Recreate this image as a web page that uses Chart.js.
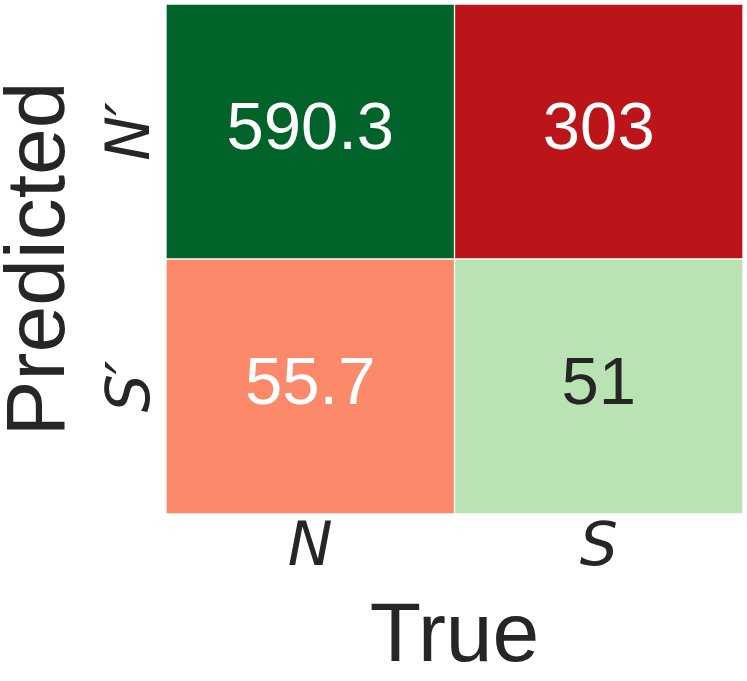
<!DOCTYPE html>
<html>
<head>
<meta charset="utf-8">
<script src="https://cdn.jsdelivr.net/npm/chart.js@4.4.1/dist/chart.umd.min.js"></script>
<style>
  body { margin: 0; background: #fff; }
  #wrap { width: 747px; height: 681px; }
</style>
</head>
<body>
<div id="wrap"><canvas id="cm" width="747" height="681"></canvas></div>
<script>
// Confusion matrix data
const trueLabels = ['N', 'S'];
const predLabels = ['N\u2032', 'S\u2032'];
const rowN = [590.3, 303];   // predicted N'
const rowS = [55.7, 51];     // predicted S'
const xTitle = 'True';
const yTitle = 'Predicted';

const cellColors = [['#00632a', '#bb151a'], ['#fc8a6a', '#b9e3b3']];
const textColors = [['#ffffff', '#ffffff'], ['#ffffff', '#262626']];
const dark = '#262626';

const rows = [rowN, rowS];

// each row is a floating bar spanning one unit on the y scale (top row first)
const datasets = rows.map((row, r) => ({
    label: predLabels[r],
    data: row.map(() => [rows.length - r - 1, rows.length - r]),
    values: row,
    backgroundColor: cellColors[r],
    borderColor: '#ffffff',
    borderWidth: 1,
    borderSkipped: false,
    barPercentage: 1,
    categoryPercentage: 1,
    grouped: false
}));

const labelPlugin = {
    id: 'cmLabels',
    afterDatasetsDraw(chart) {
        const ctx = chart.ctx;
        const xs = chart.scales.x;
        const ys = chart.scales.y;
        const area = chart.chartArea;
        ctx.save();

        // cell values
        ctx.font = '67px "Liberation Sans", Arial, sans-serif';
        ctx.textAlign = 'center';
        ctx.textBaseline = 'alphabetic';
        chart.data.datasets.forEach((ds, r) => {
            chart.getDatasetMeta(r).data.forEach((bar, c) => {
                const cy = (bar.y + bar.base) / 2;
                ctx.fillStyle = textColors[r][c];
                ctx.fillText(String(ds.values[c]), bar.x, cy + 17);
            });
        });

        // x tick labels
        ctx.fillStyle = dark;
        ctx.font = 'italic 60px "DejaVu Sans", sans-serif';
        trueLabels.forEach((lab, i) => {
            ctx.fillText(lab, xs.getPixelForValue(i), 565);
        });

        // y tick labels (rotated)
        predLabels.forEach((lab, r) => {
            const cy = ys.getPixelForValue(rows.length - r - 0.5);
            ctx.save();
            ctx.translate(149, cy);
            ctx.rotate(-Math.PI / 2);
            ctx.fillText(lab, 0, 0);
            ctx.restore();
        });

        // axis titles
        ctx.font = '84px "Liberation Sans", Arial, sans-serif';
        ctx.fillText(xTitle, (area.left + area.right) / 2, 661);
        ctx.save();
        ctx.translate(64, (area.top + area.bottom) / 2);
        ctx.rotate(-Math.PI / 2);
        ctx.fillText(yTitle, 0, 0);
        ctx.restore();

        ctx.restore();
    }
};

new Chart(document.getElementById('cm'), {
    type: 'bar',
    data: { labels: trueLabels, datasets: datasets },
    options: {
        responsive: false,
        animation: false,
        layout: { padding: { left: 166, right: 4, top: 4, bottom: 167 } },
        plugins: { legend: { display: false }, tooltip: { enabled: false } },
        scales: {
            x: { display: false },
            y: { display: false, min: 0, max: 2 }
        }
    },
    plugins: [labelPlugin]
});
</script>
</body>
</html>
